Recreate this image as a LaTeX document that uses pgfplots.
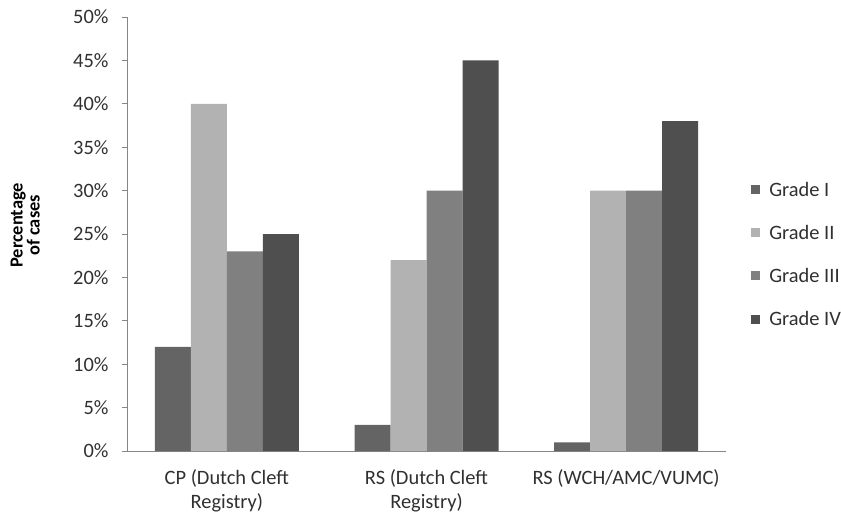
\documentclass[border=0pt]{standalone}
\usepackage{fontspec}
\setmainfont{Carlito}
\usepackage{pgfplots}
\pgfplotsset{compat=1.18}
\definecolor{gI}{HTML}{646464}
\definecolor{gII}{HTML}{B2B2B2}
\definecolor{gIII}{HTML}{808080}
\definecolor{gIV}{HTML}{4F4F4F}
\definecolor{axgray}{HTML}{868686}
\definecolor{txt}{HTML}{303030}
\begin{document}
\begin{tikzpicture}
\path[use as bounding box] (-127bp,-64bp) rectangle (714bp,451bp);
\begin{axis}[
  scale only axis,
  width=599bp, height=434bp,
  ybar=0pt, bar width=36bp,
  xmin=-0.5, xmax=2.5,
  ymin=0, ymax=50,
  ytick={0,5,...,50},
  yticklabel={\pgfmathprintnumber{\tick}\%},
  /pgf/number format/assume math mode=true,
  xtick={0,1,2},
  xticklabels={{CP (Dutch Cleft\\Registry)},{RS (Dutch Cleft\\Registry)},{RS (WCH/AMC/VUMC)}},
  xticklabel style={align=center, text=txt, yshift=-10bp},
  x tick label as interval=false,
  extra x ticks={-0.5,0.5,1.5,2.5},
  extra x tick labels={},
  extra x tick style={major tick length=7bp, tick style={axgray, line width=0.8bp}},
  axis x line*=bottom,
  axis y line*=left,
  axis line style={axgray, line width=0.8bp},
  tick align=outside,
  major tick length=5bp,
  major x tick style={draw=none},
  ytick style={axgray, line width=0.8bp},
  yticklabel style={text=txt, xshift=-10bp},
  font=\fontsize{20.5}{24}\selectfont,
  ylabel={Percentage\\of cases},
  ylabel style={at={(rel axis cs:-0.170,0.52)}, anchor=center, align=center,
    font=\bfseries\fontsize{18.5}{17}\selectfont, text=black},
  legend style={at={(1.042,0.453)}, anchor=west, draw=none, fill=none,
    row sep=23.5bp, font=\fontsize{20.5}{24}\selectfont, text=txt, inner sep=0pt,
    /tikz/every odd column/.append style={column sep=7bp}},
  legend cell align=left,
  legend image code/.code={\fill[#1,draw=none] (0bp,-4.5bp) rectangle (9bp,4.5bp);},
]
\addplot[fill=gI, draw=none] coordinates {(0,12) (1,3) (2,1)};
\addplot[fill=gII, draw=none] coordinates {(0,40) (1,22) (2,30)};
\addplot[fill=gIII, draw=none] coordinates {(0,23) (1,30) (2,30)};
\addplot[fill=gIV, draw=none] coordinates {(0,25) (1,45) (2,38)};
\legend{Grade I, Grade II, Grade III, Grade IV}
\end{axis}
\end{tikzpicture}
\end{document}
